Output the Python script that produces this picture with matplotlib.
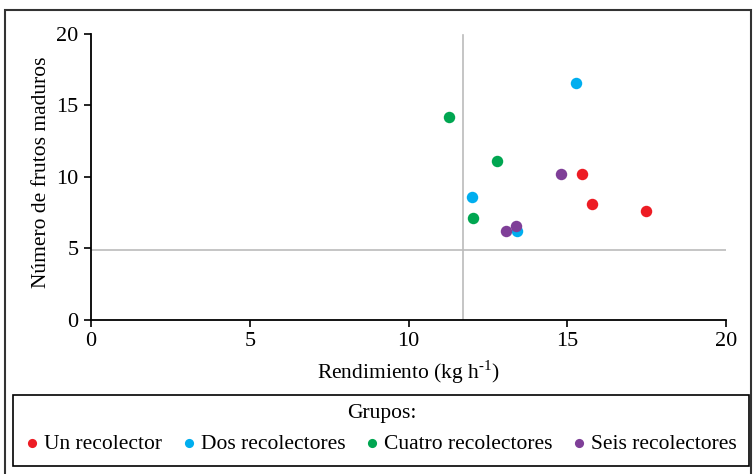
import matplotlib
matplotlib.use('Agg')
import matplotlib.pyplot as plt
from matplotlib.patches import Rectangle

plt.rcParams['font.family'] = ['Liberation Serif', 'DejaVu Serif']
plt.rcParams['mathtext.fontset'] = 'custom'
plt.rcParams['mathtext.rm'] = 'Liberation Serif'

# Data
groups = ['Un recolector', 'Dos recolectores', 'Cuatro recolectores', 'Seis recolectores']
colors = ['#ED1C24', '#00AEEF', '#00A651', '#7F3F98']

un_x = [15.46, 15.78, 17.48]
un_y = [10.2, 8.1, 7.6]
dos_x = [15.27, 12.0, 13.43]
dos_y = [16.6, 8.6, 6.2]
cuatro_x = [11.28, 12.78, 12.02]
cuatro_y = [14.2, 11.1, 7.1]
seis_x = [14.80, 13.40, 13.08]
seis_y = [10.2, 6.6, 6.2]

ref_x = 11.72   # vertical reference line
ref_y = 4.9     # horizontal reference line

fig = plt.figure(figsize=(7.56, 4.74), dpi=100)
ax = fig.add_axes([0.1204, 0.3249, 0.8399, 0.6034])

# reference lines
ax.plot([ref_x, ref_x], [0, 19.9], color='#BBBBBB', lw=1.2, zorder=1)
ax.plot([0, 20], [ref_y, ref_y], color='#BBBBBB', lw=1.2, zorder=1)

series = [(un_x, un_y), (dos_x, dos_y), (cuatro_x, cuatro_y), (seis_x, seis_y)]
for (xs, ys), c, g in zip(series, colors, groups):
    ax.scatter(xs, ys, s=68, color=c, label=g, zorder=3, linewidths=0)

ax.set_xlim(0, 20)
ax.set_ylim(0, 20)
ax.set_xticks([0, 5, 10, 15, 20])
ax.set_yticks([0, 5, 10, 15, 20])
ax.spines['top'].set_visible(False)
ax.spines['right'].set_visible(False)
ax.spines['left'].set_linewidth(1.3)
ax.spines['bottom'].set_linewidth(1.3)
ax.tick_params(direction='out', length=5, width=1.2, labelsize=16, pad=4)
ax.set_xlabel('Rendimiento (kg h$^{\\text{-1}}$)', fontsize=15.5, labelpad=5)
ax.set_ylabel('Número de frutos maduros', fontsize=15.5)
ax.yaxis.set_label_coords(-0.0625, 0.515)

# legend at the bottom, frame drawn separately
leg = fig.legend(loc='center', bbox_to_anchor=(0.505, 0.095), ncol=4,
                 title='Grupos:', fontsize=15.5, title_fontsize=15.5,
                 frameon=False, handletextpad=0.3, columnspacing=1.0,
                 handlelength=0.5, markerscale=0.8, borderpad=0.3)

fig.patches.append(Rectangle((13 / 756, 1 - 466 / 474), 736 / 756, 71 / 474,
                             transform=fig.transFigure, fill=False,
                             edgecolor='black', lw=1.2))

# outer frame around the figure
fig.patches.append(Rectangle((5 / 756, -0.01), 746 / 756, 1 - 10 / 474 + 0.01,
                             transform=fig.transFigure, fill=False,
                             edgecolor='#333333', lw=1.5))

fig.savefig('out.png', dpi=100)
